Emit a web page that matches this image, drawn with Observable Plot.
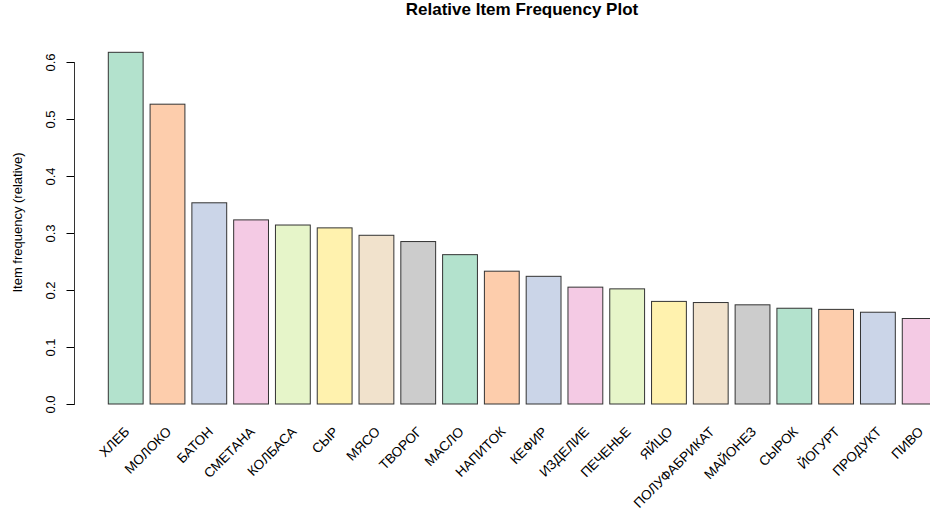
<!DOCTYPE html>
<html><head><meta charset="utf-8">
<script src="https://cdn.jsdelivr.net/npm/d3@7"></script>
<script src="https://cdn.jsdelivr.net/npm/@observablehq/plot@0.6"></script>
<style>
html,body{margin:0;padding:0;background:#fff;overflow:hidden;width:930px;height:510px}
#title{box-sizing:border-box;width:930px;height:38px;line-height:38px;padding-left:114px;text-align:center;font:bold 17px "Liberation Sans",Arial,sans-serif;color:#000;white-space:nowrap}
#chart svg{overflow:visible}
</style></head><body>
<div id="title">Relative Item Frequency Plot</div>
<div id="chart"></div>
<script>
const items = ["ХЛЕБ","МОЛОКО","БАТОН","СМЕТАНА","КОЛБАСА","СЫР","МЯСО","ТВОРОГ","МАСЛО","НАПИТОК",
  "КЕФИР","ИЗДЕЛИЕ","ПЕЧЕНЬЕ","ЯЙЦО","ПОЛУФАБРИКАТ","МАЙОНЕЗ","СЫРОК","ЙОГУРТ","ПРОДУКТ","ПИВО"];
const freqs = [0.617,0.526,0.353,0.323,0.314,0.309,0.296,0.285,0.262,0.233,
  0.224,0.205,0.202,0.180,0.178,0.174,0.168,0.166,0.161,0.150];
const palette = ["#B3E2CD","#FDCDAC","#CBD5E8","#F4CAE4","#E6F5C9","#FFF2AE","#F1E2CC","#CCCCCC"];
const yTicks = [0.0,0.1,0.2,0.3,0.4,0.5,0.6];
const yLabel = "Item frequency (relative)";

const data = items.map((item, i) => ({item, freq: freqs[i], color: palette[i % palette.length]}));

const chart = Plot.plot({
  width: 930, height: 472,
  marginTop: 24, marginBottom: 106, marginLeft: 74, marginRight: 0,
  style: {fontFamily: "'Liberation Sans', Arial, sans-serif", fontSize: "13px", background: "white", overflow: "visible", color: "#000"},
  x: {domain: items, range: [108.3, 937.1], paddingInner: 1/6, paddingOuter: 0, round: false},
  y: {domain: [0, 0.6]},
  color: {type: "identity"},
  marks: [
    Plot.barY(data, {x: "item", y: "freq", fill: "color", stroke: "#333", strokeWidth: 1}),
    Plot.frame({anchor: "left", stroke: "#333"}),
    Plot.axisY(yTicks, {tickSize: 7.5, tickPadding: 12, tickRotate: -90, tickFormat: d3.format(".1f"), fontSize: 13, label: null}),
    Plot.axisX(items, {tickSize: 0, tickPadding: 25, tickRotate: -45, textAnchor: "end", lineAnchor: "middle", dx: 1, fontSize: 13.5, label: null}),
    Plot.text([yLabel], {frameAnchor: "left", textAnchor: "middle", rotate: -90, dx: -62, dy: -11, lineAnchor: "top", fontSize: 13})
  ]
});
document.getElementById("chart").appendChild(chart);
</script>
</body></html>
